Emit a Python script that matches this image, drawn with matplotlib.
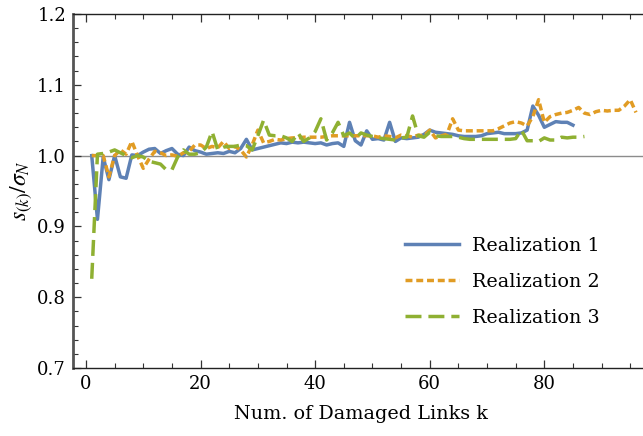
import matplotlib
matplotlib.use("Agg")
import matplotlib.pyplot as plt
from matplotlib.ticker import MultipleLocator, FuncFormatter
import numpy as np

plt.rcParams['font.family'] = ['DejaVu Serif']
plt.rcParams['mathtext.fontset'] = 'stix'

# Normalized standard deviation s_(k)/sigma_N after k damaged links
real1 = [1.000, 0.910, 0.998, 0.966, 1.000, 0.970, 0.968, 1.001, 1.000, 1.005,
         1.009, 1.010, 1.003, 1.007, 1.010, 1.002, 1.000, 1.012, 1.007, 1.005,
         1.002, 1.003, 1.004, 1.003, 1.006, 1.004, 1.010, 1.023, 1.008, 1.010,
         1.012, 1.014, 1.016, 1.018, 1.017, 1.019, 1.018, 1.019, 1.018, 1.017,
         1.018, 1.015, 1.017, 1.018, 1.013, 1.047, 1.021, 1.015, 1.035, 1.023,
         1.024, 1.022, 1.047, 1.020, 1.025, 1.024, 1.025, 1.026, 1.030, 1.036,
         1.033, 1.032, 1.031, 1.030, 1.028, 1.027, 1.027, 1.027, 1.028, 1.031,
         1.032, 1.033, 1.031, 1.031, 1.031, 1.032, 1.036, 1.070, 1.057, 1.040,
         1.044, 1.048, 1.047, 1.047, 1.043]

real2 = [1.000, 1.000, 1.000, 0.970, 1.000, 1.008, 1.002, 1.020, 1.000, 0.982,
         0.995, 1.006, 1.004, 1.000, 1.001, 0.999, 1.004, 1.006, 1.015, 1.015,
         1.010, 1.013, 1.011, 1.020, 1.010, 1.013, 1.008, 0.998, 1.015, 1.036,
         1.018, 1.020, 1.023, 1.022, 1.024, 1.025, 1.025, 1.026, 1.026, 1.026,
         1.026, 1.027, 1.028, 1.028, 1.028, 1.028, 1.028, 1.028, 1.028, 1.028,
         1.026, 1.028, 1.027, 1.025, 1.029, 1.028, 1.026, 1.029, 1.028, 1.036,
         1.025, 1.028, 1.030, 1.052, 1.036, 1.035, 1.035, 1.035, 1.035, 1.035,
         1.035, 1.038, 1.042, 1.046, 1.048, 1.046, 1.042, 1.055, 1.079, 1.047,
         1.055, 1.058, 1.060, 1.061, 1.064, 1.068, 1.060, 1.058, 1.062, 1.064,
         1.063, 1.064, 1.064, 1.070, 1.079, 1.061]

real3 = [0.826, 1.002, 1.003, 1.005, 1.008, 1.004, 1.000, 0.997, 1.000, 0.998,
         0.992, 0.990, 0.988, 0.980, 0.980, 0.998, 1.008, 1.002, 1.002, 1.004,
         1.012, 1.034, 1.008, 1.012, 1.013, 1.013, 1.015, 1.014, 1.008, 1.028,
         1.050, 1.029, 1.028, 1.028, 1.025, 1.020, 1.032, 1.020, 1.025, 1.034,
         1.052, 1.022, 1.032, 1.047, 1.028, 1.032, 1.024, 1.032, 1.029, 1.027,
         1.025, 1.024, 1.023, 1.022, 1.025, 1.026, 1.056, 1.028, 1.026, 1.033,
         1.028, 1.027, 1.027, 1.027, 1.026, 1.024, 1.023, 1.023, 1.023, 1.023,
         1.023, 1.023, 1.023, 1.023, 1.024, 1.036, 1.021, 1.021, 1.020, 1.025,
         1.022, 1.022, 1.026, 1.025, 1.026, 1.026, 1.027]

labels = ["Realization 1", "Realization 2", "Realization 3"]
colors = ["#5E81B5", "#E19C24", "#8FB032"]

W, H = 643, 436
fig = plt.figure(figsize=(W / 100, H / 100), dpi=100)
ax = fig.add_axes([73 / W, 68 / H, 575 / W, 354 / H])

ax.axhline(1.0, color="#8c8c8c", lw=1.0, zorder=1)

series = [real1, real2, real3]
styles = [dict(ls="-"), dict(ls=(0, (2.0, 1.1))), dict(ls=(0, (4.6, 2.0)))]
for vals, lab, col, st in zip(series, labels, colors, styles):
    k = np.arange(1, len(vals) + 1)
    ax.plot(k, vals, color=col, lw=2.5, label=lab, zorder=3, **st)

ax.set_xlim(-2.27, 98.1)
ax.set_ylim(0.7, 1.2)
ax.xaxis.set_major_locator(MultipleLocator(20))
ax.xaxis.set_minor_locator(MultipleLocator(5))
ax.yaxis.set_major_locator(MultipleLocator(0.1))
ax.yaxis.set_minor_locator(MultipleLocator(0.02))
ax.yaxis.set_major_formatter(FuncFormatter(lambda v, p: f"{v:.1f}"))
ax.tick_params(which="both", direction="in", top=True, right=False, labelsize=13,
               color="#333333", pad=5)
ax.tick_params(which="major", length=6, width=0.9)
ax.tick_params(which="minor", length=3.5, width=0.8)

for s in ["bottom", "top"]:
    ax.spines[s].set_linewidth(1.0)
    ax.spines[s].set_color("#222222")
ax.spines["right"].set_visible(False)
ax.spines["left"].set_linewidth(2.0)
ax.spines["left"].set_color("#555555")

ax.set_xlabel("Num. of Damaged Links k", fontsize=13.8, labelpad=9)
ax.set_ylabel(r"$s_{(k)}/\sigma_N$", fontsize=17, labelpad=2)

leg = fig.legend(loc="upper left", bbox_to_anchor=(395 / W, (436 - 227) / H),
                 frameon=False, fontsize=13.8, borderpad=0, handlelength=2.85,
                 handletextpad=0.65, labelspacing=0.95)

fig.savefig("out.png", dpi=100)
